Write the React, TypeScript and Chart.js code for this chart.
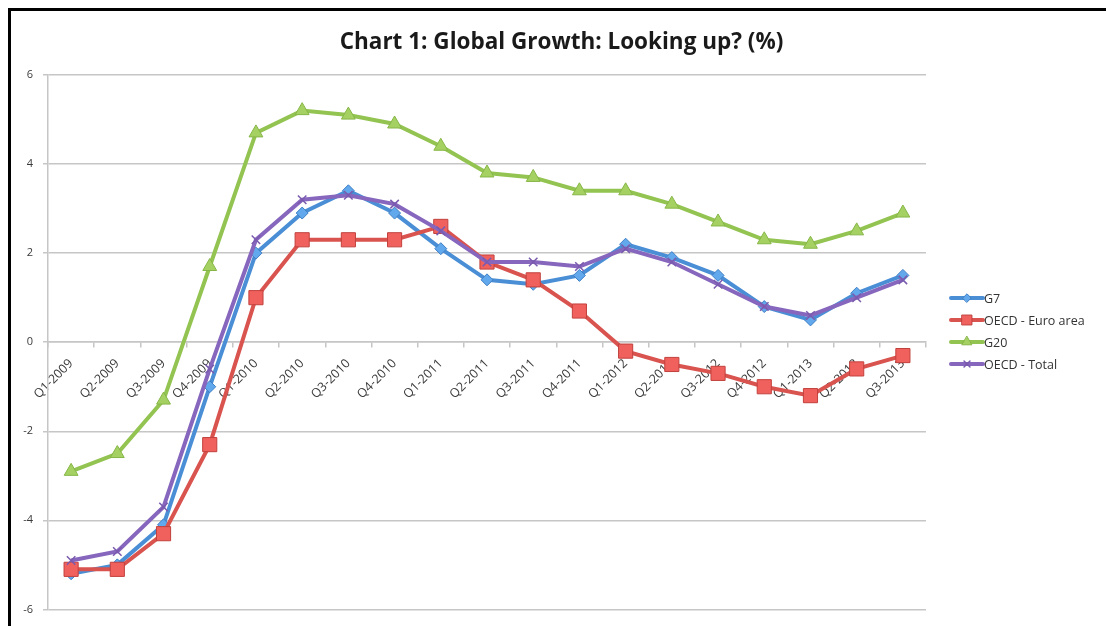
import React, { useEffect, useRef } from 'react';
import { Chart, registerables } from 'chart.js';
import { drawPoint } from 'chart.js/helpers';

Chart.register(...registerables);

const categories = [
  'Q1-2009', 'Q2-2009', 'Q3-2009', 'Q4-2009',
  'Q1-2010', 'Q2-2010', 'Q3-2010', 'Q4-2010',
  'Q1-2011', 'Q2-2011', 'Q3-2011', 'Q4-2011',
  'Q1-2012', 'Q2-2012', 'Q3-2012', 'Q4-2012',
  'Q1-2013', 'Q2-2013', 'Q3-2013',
];

const g7 = [-5.2, -5.0, -4.1, -1.0, 2.0, 2.9, 3.4, 2.9, 2.1, 1.4, 1.3, 1.5, 2.2, 1.9, 1.5, 0.8, 0.5, 1.1, 1.5];
const euroArea = [-5.1, -5.1, -4.3, -2.3, 1.0, 2.3, 2.3, 2.3, 2.6, 1.8, 1.4, 0.7, -0.2, -0.5, -0.7, -1.0, -1.2, -0.6, -0.3];
const g20 = [-2.9, -2.5, -1.3, 1.7, 4.7, 5.2, 5.1, 4.9, 4.4, 3.8, 3.7, 3.4, 3.4, 3.1, 2.7, 2.3, 2.2, 2.5, 2.9];
const oecdTotal = [-4.9, -4.7, -3.7, -0.6, 2.3, 3.2, 3.3, 3.1, 2.5, 1.8, 1.8, 1.7, 2.1, 1.8, 1.3, 0.8, 0.6, 1.0, 1.4];

const seriesNames = ['G7', 'OECD - Euro area', 'G20', 'OECD - Total'];
const titleText = 'Chart 1: Global Growth: Looking up? (%)';
const yMin = -6;
const yMax = 6;
const yStep = 2;

const FONT = "'Open Sans', 'DejaVu Sans', sans-serif";
const GRID = '#c6c6c6';
const TICK_TEXT = '#3a3a3a';

const sideLegend = {
  id: 'sideLegend',
  afterDraw(chart: any) {
    const ctx = chart.ctx as CanvasRenderingContext2D;
    const x0 = 951;
    const x1 = 983;
    chart.data.datasets.forEach((ds: any, i: number) => {
      const y = 298 + i * 22;
      ctx.save();
      ctx.lineCap = 'round';
      ctx.strokeStyle = ds.borderColor;
      ctx.lineWidth = 4;
      ctx.beginPath();
      ctx.moveTo(x0, y);
      ctx.lineTo(x1, y);
      ctx.stroke();
      ctx.fillStyle = ds.pointBackgroundColor;
      ctx.strokeStyle = ds.pointBorderColor;
      ctx.lineWidth = ds.pointBorderWidth;
      drawPoint(ctx, {
        pointStyle: ds.pointStyle,
        radius: ds.pointRadius * 0.7,
        rotation: 0,
        borderWidth: ds.pointBorderWidth,
      } as any, (x0 + x1) / 2, y);
      ctx.fillStyle = '#333333';
      ctx.font = `12.5px ${FONT}`;
      ctx.textBaseline = 'middle';
      ctx.textAlign = 'left';
      ctx.fillText(ds.label, x1 + 1, y + 1);
      ctx.restore();
    });
  },
};

export default function App() {
  const canvasRef = useRef<HTMLCanvasElement | null>(null);

  useEffect(() => {
    if (!canvasRef.current) return;
    const chart = new Chart(canvasRef.current, {
      type: 'line',
      data: {
        labels: categories,
        datasets: [
          {
            label: seriesNames[0],
            data: g7,
            borderColor: '#4a8fd6',
            backgroundColor: '#4a8fd6',
            pointBackgroundColor: '#62a8ec',
            pointBorderColor: '#3f7fc4',
            pointBorderWidth: 1,
            pointStyle: 'rectRot',
            pointRadius: 6,
            borderWidth: 4,
            order: 4,
          },
          {
            label: seriesNames[1],
            data: euroArea,
            borderColor: '#d9534f',
            backgroundColor: '#d9534f',
            pointBackgroundColor: '#f0615d',
            pointBorderColor: '#c2413d',
            pointBorderWidth: 1,
            pointStyle: 'rect',
            pointRadius: 10,
            borderWidth: 4,
            order: 3,
          },
          {
            label: seriesNames[2],
            data: g20,
            borderColor: '#93c452',
            backgroundColor: '#93c452',
            pointBackgroundColor: '#a5d163',
            pointBorderColor: '#86b647',
            pointBorderWidth: 1,
            pointStyle: 'triangle',
            pointRadius: 8,
            borderWidth: 4,
            order: 2,
          },
          {
            label: seriesNames[3],
            data: oecdTotal,
            borderColor: '#8766bd',
            backgroundColor: '#8766bd',
            pointBackgroundColor: '#8766bd',
            pointBorderColor: '#7a5aae',
            pointBorderWidth: 1.5,
            pointStyle: 'crossRot',
            pointRadius: 6,
            borderWidth: 4,
            order: 1,
          },
        ],
      },
      options: {
        animation: false,
        responsive: false,
        maintainAspectRatio: false,
        layout: { padding: { left: 17, top: 0, right: 0, bottom: 16 } },
        elements: { line: { tension: 0 } },
        plugins: {
          legend: { display: false },
          tooltip: { enabled: false },
          title: {
            display: true,
            text: titleText,
            color: '#1a1a1a',
            font: { family: FONT, size: 22.5, weight: 'bold', lineHeight: 1.2 },
            padding: { top: 29, bottom: 19 },
          },
        },
        scales: {
          x: {
            type: 'category',
            position: { y: 0 } as any,
            offset: true,
            grid: {
              display: true,
              offset: true,
              drawOnChartArea: false,
              drawTicks: true,
              tickLength: 5,
              color: GRID,
              lineWidth: 1.5,
            },
            border: { display: true, color: GRID, width: 1.5 },
            ticks: {
              autoSkip: false,
              minRotation: 45,
              maxRotation: 45,
              padding: 9,
              color: TICK_TEXT,
              font: { family: FONT, size: 12.5 },
            },
          },
          y: {
            type: 'linear',
            position: 'left',
            min: yMin,
            max: yMax,
            afterFit: (s: any) => { s.width = 31; },
            grid: {
              color: GRID,
              lineWidth: 1.5,
              tickLength: 5,
            },
            border: { display: true, color: GRID, width: 1.5 },
            ticks: {
              stepSize: yStep,
              padding: 10,
              color: TICK_TEXT,
              font: { family: FONT, size: 11 },
            },
          },
          spacer: {
            type: 'linear',
            position: 'right',
            display: true,
            min: yMin,
            max: yMax,
            afterFit: (s: any) => { s.width = 180; },
            grid: { display: false, drawOnChartArea: false, drawTicks: false },
            border: { display: false },
            ticks: { display: false },
          },
        },
      },
      plugins: [sideLegend],
    });
    return () => chart.destroy();
  }, []);

  return (
    <div style={{ position: 'fixed', left: 0, top: 0, width: 1106, height: 626, overflow: 'hidden', background: '#ffffff' }}>
      <canvas ref={canvasRef} width={1106} height={626} style={{ display: 'block', position: 'absolute', left: 0, top: 0, width: 1106, height: 626 }} />
      <div style={{ position: 'absolute', left: 8, top: 8, width: 1098, height: 3, background: '#000', pointerEvents: 'none' }} />
      <div style={{ position: 'absolute', left: 8, top: 8, width: 3, height: 618, background: '#000', pointerEvents: 'none' }} />
    </div>
  );
}
